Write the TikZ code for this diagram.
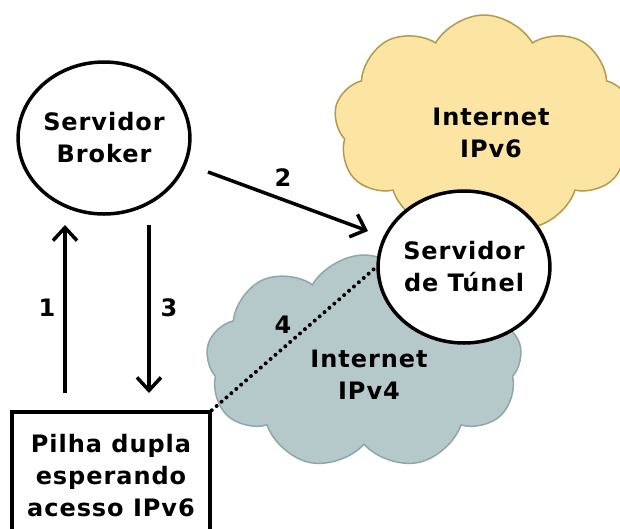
\documentclass[tikz,border=0pt]{standalone}
\usepackage{fontspec}
\newfontfamily\dvfont[LetterSpace=4]{DejaVu Sans Bold}
\usetikzlibrary{shapes.geometric,shapes.symbols,arrows.meta}
\definecolor{yfill}{HTML}{FCE4A2}
\definecolor{ydraw}{HTML}{B39A4E}
\definecolor{bfill}{HTML}{B5C8CA}
\definecolor{bdraw}{HTML}{8EA7AA}
\tikzset{
  txt/.style={font=\fontsize{24}{32}\selectfont\dvfont, align=center, inner sep=0pt},
  srv/.style={ellipse, draw=black, line width=3.5pt, fill=white, minimum width=166pt, minimum height=152pt, inner sep=0pt, txt},
  cl/.style={cloud, cloud puff arc=120, line width=1.5pt, inner sep=0pt},
  arr/.style={line width=3.5pt, -{Straight Barb[length=13pt,width=24pt,line width=3.5pt]}},
  num/.style={font=\fontsize{24}{28}\selectfont\dvfont, inner sep=0pt},
}
\begin{document}
\begin{tikzpicture}[x=1pt,y=-1pt]
\useasboundingbox (0,0) rectangle (620,528);
\node[cl, draw=ydraw, fill=yfill, minimum width=300pt, minimum height=218pt, cloud puffs=9] (c6) at (484,124) {};
\node[cl, draw=bdraw, fill=bfill, minimum width=316pt, minimum height=214pt, cloud puffs=9] (c4) at (364,362) {};
\node[txt] (t6) at (491,133) {Internet\\IPv6};
\node[txt] (t4) at (369,375) {Internet\\IPv4};
\node[srv] (brk) at (104,138) {Servidor\\Broker};
\node[srv] (tun) at (464,267) {Servidor\\de Túnel};
\node[draw=black, line width=3.5pt, fill=white, minimum width=198pt, minimum height=128pt, txt] (box) at (111,476) {Pilha dupla\\esperando\\acesso IPv6};
\coordinate (a1s) at (65,393);
\coordinate (a1e) at (65,225);
\coordinate (a3s) at (149,225);
\coordinate (a3e) at (149,393);
\coordinate (a2s) at (208,172);
\coordinate (a2e) at (368,231);
\draw[arr] (a1s) -- (a1e);
\draw[arr] (a3s) -- (a3e);
\draw[arr] (a2s) -- (a2e);
\draw[line width=4pt, line cap=round, dash pattern=on 0pt off 6.5pt] (box.north east) -- (tun.west);
\node[num] (n1) at (47,308) {1};
\node[num] (n3) at (169,308) {3};
\node[num] (n2) at (283,178) {2};
\node[num] (n4) at (283,325) {4};
\end{tikzpicture}
\end{document}
